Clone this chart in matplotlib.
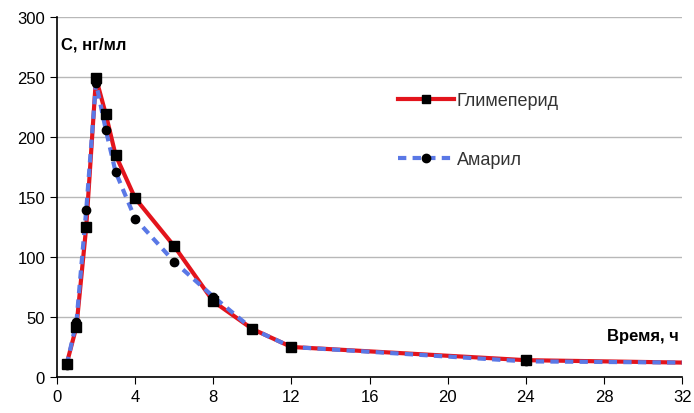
import matplotlib.pyplot as plt
from matplotlib.lines import Line2D

plt.rcParams['font.family'] = ['Liberation Sans', 'DejaVu Sans']

# time points, h
hours = [0.5, 1, 1.5, 2, 2.5, 3, 4, 6, 8, 10, 12, 24, 32]
# concentration, ng/ml
glimeperid = [11, 42, 125, 249, 219, 185, 149, 109, 63, 40, 25, 14, 12]
amaryl = [10, 46, 139, 245, 206, 171, 132, 96, 67, 40, 25, 13, 12]

x_ticks = [0, 4, 8, 12, 16, 20, 24, 28, 32]
y_ticks = [0, 50, 100, 150, 200, 250, 300]

fig = plt.figure(figsize=(6.94, 4.14), dpi=100)
ax = fig.add_axes([0.082, 0.087, 0.901, 0.870])

red = '#e3141c'
blue = '#5a78e6'

ax.plot(hours, glimeperid, color=red, lw=3, zorder=3)
ax.plot(hours, amaryl, color=blue, lw=3, dashes=(2, 1.5), zorder=4)
# markers (no marker drawn at the last point, it sits on the edge)
ax.plot(hours[:-1], amaryl[:-1], ls='none', marker='o', ms=6, color='black', zorder=5)
ax.plot(hours[:-1], glimeperid[:-1], ls='none', marker='s', ms=7, color='black', zorder=6)

ax.set_xlim(0, 32)
ax.set_ylim(0, 300)
ax.set_xticks(x_ticks)
ax.set_yticks(y_ticks)
ax.tick_params(labelsize=12, colors='black', length=5, direction='out')
ax.yaxis.grid(True, color='#b8b8b8', lw=1)
ax.set_axisbelow(True)
for s in ['top', 'right']:
    ax.spines[s].set_visible(False)
ax.spines['left'].set_linewidth(1.2)
ax.spines['bottom'].set_linewidth(1.2)

ax.text(0.006, 0.945, 'С, нг/мл', transform=ax.transAxes, fontsize=12,
        fontweight='bold', va='top', ha='left')
ax.text(0.995, 0.115, 'Время, ч', transform=ax.transAxes, fontsize=12,
        fontweight='bold', va='center', ha='right')

handles = [
    Line2D([], [], color=red, lw=3, marker='s', ms=6, mfc='black', mec='black'),
    Line2D([], [], color=blue, lw=3, dashes=(2, 1.5), marker='o', ms=6, mfc='black', mec='black'),
]
leg = ax.legend(handles, ['Глимеперид', 'Амарил'], loc='upper left',
                bbox_to_anchor=(0.52, 0.835), frameon=False, fontsize=13,
                handlelength=3.1, handletextpad=0.15, labelspacing=2.3, numpoints=1)
for t in leg.get_texts():
    t.set_color('#333333')

fig.savefig('out.png', dpi=100)
